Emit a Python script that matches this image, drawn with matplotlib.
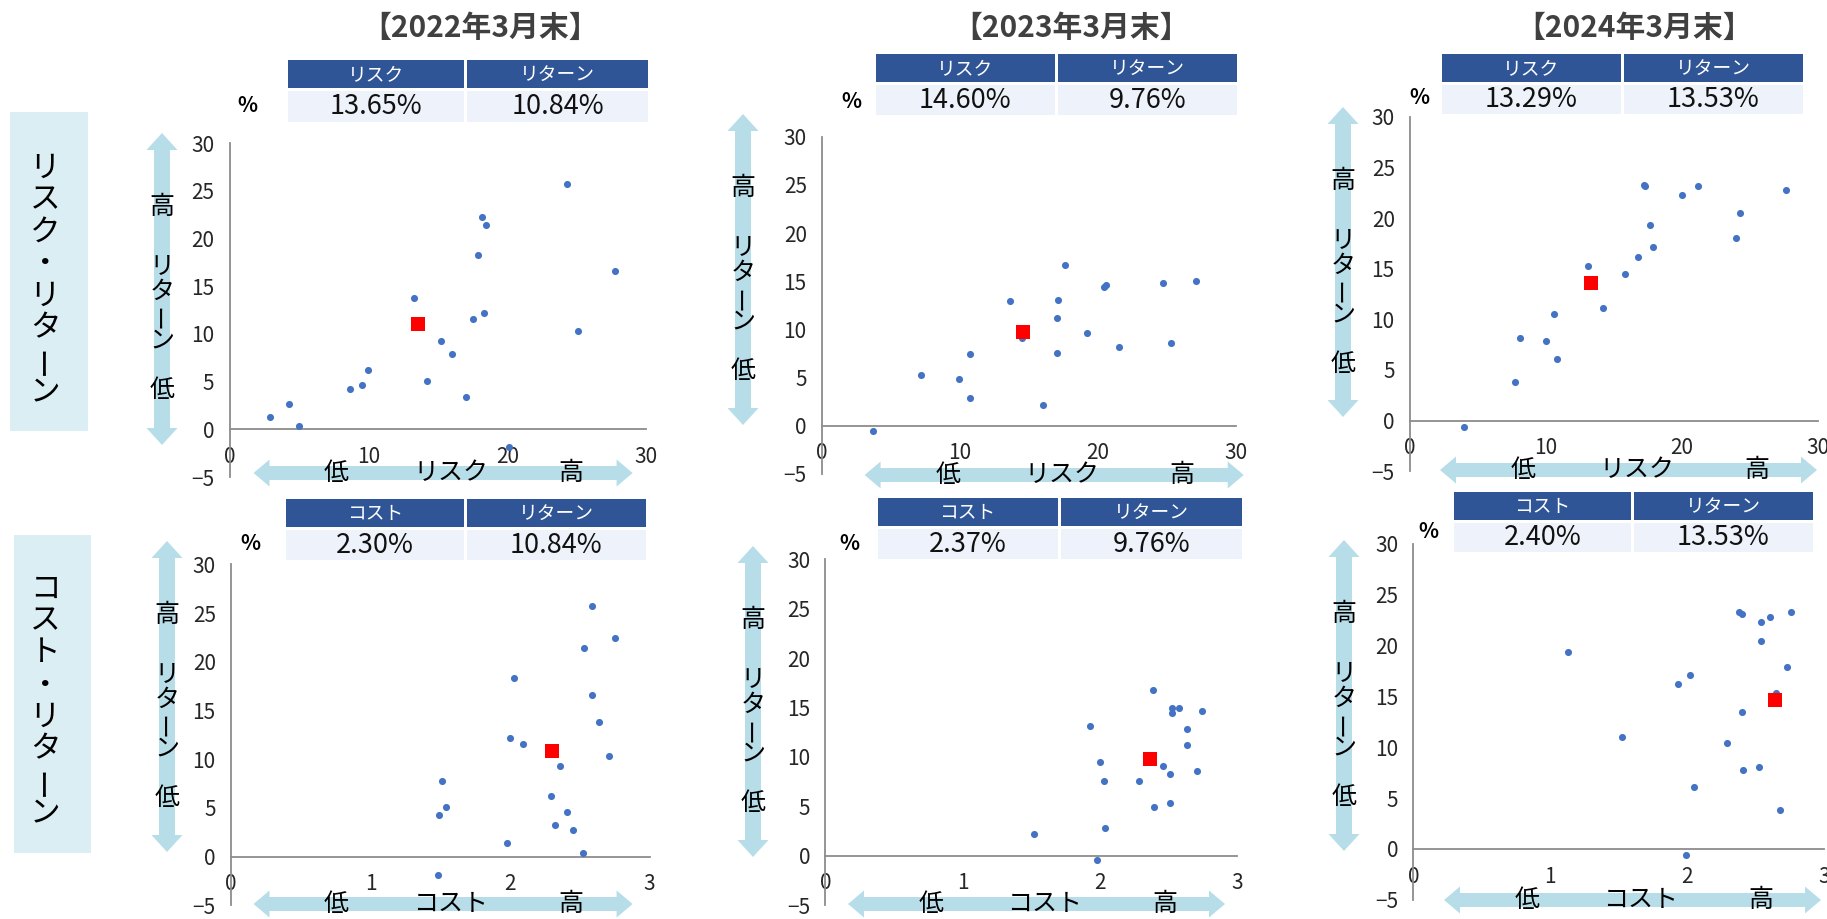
import numpy as np
import matplotlib
matplotlib.use("Agg")
import matplotlib.pyplot as plt
from matplotlib.patches import Rectangle, Polygon

plt.rcParams['font.family'] = ['Noto Sans CJK JP', 'DejaVu Sans']

W, H = 1827, 919

titles = ["【2022年3月末】", "【2023年3月末】", "【2024年3月末】"]

# --- 2022 ---
risk_2022 = [2.9, 4.3, 5.0, 8.7, 9.5, 10.0, 13.3, 14.2, 15.2, 16.0, 17.0, 17.5, 17.9, 18.2, 18.3, 18.5, 20.1, 24.3, 25.1, 27.8]
rr_2022 = [1.3, 2.7, 0.4, 4.2, 4.6, 6.2, 13.8, 5.1, 9.3, 7.9, 3.4, 11.6, 18.3, 22.3, 12.2, 21.4, -1.9, 25.7, 10.3, 16.6]
cost_2022 = [2.59, 2.75, 2.53, 2.03, 2.59, 2.64, 2.00, 2.09, 2.71, 2.36, 1.51, 2.29, 1.54, 1.49, 2.41, 2.32, 2.45, 1.98, 2.52, 1.48]
rc_2022 = [25.7, 22.4, 21.4, 18.3, 16.6, 13.8, 12.2, 11.6, 10.3, 9.3, 7.8, 6.2, 5.1, 4.3, 4.6, 3.3, 2.7, 1.4, 0.4, -1.9]

# --- 2023 ---
risk_2023 = [3.7, 7.2, 9.9, 10.7, 10.7, 13.6, 14.5, 16.0, 17.0, 17.0, 17.1, 17.6, 19.2, 20.4, 20.6, 21.5, 24.7, 25.3, 27.1]
rr_2023 = [-0.5, 5.3, 4.9, 7.5, 2.9, 12.9, 9.1, 2.2, 7.6, 11.2, 13.1, 16.7, 9.6, 14.4, 14.6, 8.2, 14.8, 8.6, 15.0]
cost_2023 = [1.52, 1.98, 2.04, 1.93, 2.00, 2.03, 2.29, 2.39, 2.40, 2.46, 2.51, 2.51, 2.53, 2.53, 2.58, 2.64, 2.64, 2.71, 2.75]
rc_2023 = [2.2, -0.4, 2.8, 13.1, 9.5, 7.6, 7.6, 16.8, 4.9, 9.1, 8.3, 5.3, 14.9, 14.4, 15.0, 12.8, 11.2, 8.6, 14.6]

# --- 2024 ---
risk_2024 = [4.0, 7.7, 8.1, 10.0, 10.8, 10.6, 13.1, 14.2, 15.8, 16.8, 17.2, 17.3, 17.7, 17.9, 20.0, 21.2, 24.0, 24.3, 27.7]
rr_2024 = [-0.6, 3.8, 8.2, 7.9, 6.1, 10.5, 15.3, 11.1, 14.5, 16.2, 23.3, 23.2, 19.3, 17.1, 22.3, 23.2, 18.0, 20.5, 22.8]
cost_2024 = [1.13, 1.52, 1.93, 2.02, 1.99, 2.05, 2.29, 2.38, 2.40, 2.40, 2.41, 2.52, 2.54, 2.54, 2.60, 2.65, 2.73, 2.68, 2.76]
rc_2024 = [19.4, 11.0, 16.2, 17.1, -0.6, 6.1, 10.4, 23.3, 23.1, 13.5, 7.8, 8.1, 22.3, 20.5, 22.8, 15.3, 17.9, 3.8, 23.3]

# averages shown in the tables
avg_risk = [13.65, 14.60, 13.29]
avg_cost = [2.30, 2.37, 2.40]
avg_ret = [10.84, 9.76, 13.53]
# where the red marker sits on the charts
mark_risk = [13.55, 14.60, 13.29]
mark_rr = [11.0, 9.76, 13.6]
mark_cost = [2.30, 2.37, 2.64]
mark_rc = [10.84, 9.8, 14.66]

risk_x = [risk_2022, risk_2023, risk_2024]
risk_y = [rr_2022, rr_2023, rr_2024]
cost_x = [cost_2022, cost_2023, cost_2024]
cost_y = [rc_2022, rc_2023, rc_2024]

BLUE = "#4472C4"
ARROW = "#B7DEE8"
BOX = "#DAEEF3"
HEAD = "#2F5597"
CELL = "#EEF2FA"

# pixel layout: (left, right, top@30, bottom@-5)
boxes_top = [(229.7, 646, 143.3, 477), (822, 1236, 136.7, 474), (1410, 1817.5, 116.7, 471.3)]
boxes_bot = [(231, 649.6, 564.3, 905.4), (825.4, 1236.7, 559.3, 905.1), (1413.3, 1824.3, 544, 899.8)]
# tables: (x0, xdiv, x1, y_top, y_mid, y_bot)
tabs_top = [(287.6, 465.7, 648, 60, 89, 122), (876, 1056, 1237, 54, 83.5, 115), (1442, 1622, 1803, 54, 83.5, 114)]
tabs_bot = [(286, 465, 646, 499, 528.5, 560), (877.5, 1059, 1242, 498, 527.5, 559), (1454, 1632, 1812.5, 492, 521.5, 552)]
pct_top = [(247, 105), (851, 102), (1419, 97)]
pct_bot = [(250, 543), (849, 543), (1428, 532)]
title_x = [480, 1071, 1634]
varrow_top = [(162, 133, 445), (743, 114, 425), (1343, 107, 417)]
varrow_bot = [(167, 541, 852), (753, 546, 857), (1344, 540, 851)]
harrow_top = [(473, 253.5, 632.6), (475, 864.6, 1243.7), (470, 1440, 1817)]
harrow_bot = [(904, 253.5, 632.6), (904, 848, 1225), (900, 1444, 1821)]

fig = plt.figure(figsize=(W / 100, H / 100), dpi=100)


def add_panel(box, xs, ys, mx, my, xmax, xticks):
    l, r, t, b = box
    ax = fig.add_axes([l / W, 1 - b / H, (r - l) / W, (b - t) / H])
    ax.scatter(xs, ys, s=26, color=BLUE, zorder=3, linewidths=0)
    ax.scatter([mx], [my], s=95, marker="s", color="#FF0000", zorder=4, linewidths=0)
    ax.set_xlim(0, xmax)
    ax.set_ylim(-5, 30)
    ax.set_yticks(range(-5, 31, 5))
    ax.set_xticks(xticks)
    ax.spines["top"].set_visible(False)
    ax.spines["right"].set_visible(False)
    ax.spines["bottom"].set_position(("data", 0))
    for s in ("left", "bottom"):
        ax.spines[s].set_color("#8c8c8c")
        ax.spines[s].set_linewidth(1.3)
    ax.tick_params(axis="both", length=0, labelsize=15, labelcolor="#262626")
    ax.tick_params(axis="y", pad=11)
    ax.tick_params(axis="x", pad=12)
    ax.patch.set_alpha(0)
    return ax


for i in range(3):
    add_panel(boxes_top[i], risk_x[i], risk_y[i], mark_risk[i], mark_rr[i], 30, [0, 10, 20, 30])
    add_panel(boxes_bot[i], cost_x[i], cost_y[i], mark_cost[i], mark_rc[i], 3, [0, 1, 2, 3])

ov = fig.add_axes([0, 0, 1, 1], zorder=10)
ov.set_xlim(0, W)
ov.set_ylim(H, 0)
ov.axis("off")
ov.patch.set_alpha(0)


def vert_arrow(xc, top, bot, s=8, h=15.5, L=17):
    pts = [(xc, top), (xc + h, top + L), (xc + s, top + L), (xc + s, bot - L), (xc + h, bot - L),
           (xc, bot), (xc - h, bot - L), (xc - s, bot - L), (xc - s, top + L), (xc - h, top + L)]
    ov.add_patch(Polygon(pts, closed=True, color=ARROW, lw=0))
    ov.text(xc, top + 74, "高", ha="center", va="center", fontsize=18)
    for k, ch in enumerate("リターン"):
        ov.text(xc, top + 134 + k * 24.5, ch, ha="center", va="center", fontsize=18,
                rotation=90 if ch == "ー" else 0)
    ov.text(xc, top + 257, "低", ha="center", va="center", fontsize=18)


def horiz_arrow(yc, left, right, word, s=7, h=13.5, L=16):
    pts = [(left, yc), (left + L, yc - h), (left + L, yc - s), (right - L, yc - s), (right - L, yc - h),
           (right, yc), (right - L, yc + h), (right - L, yc + s), (left + L, yc + s), (left + L, yc + h)]
    ov.add_patch(Polygon(pts, closed=True, color=ARROW, lw=0))
    ov.text(left + 83, yc, "低", ha="center", va="center", fontsize=18)
    ov.text(left + 197, yc, word, ha="center", va="center", fontsize=18)
    ov.text(left + 317, yc, "高", ha="center", va="center", fontsize=18)


def table(tb, heads, vals):
    x0, xd, x1, yt, ym, yb = tb
    gap = 1.5
    for (a, c), hd, v in zip([(x0, xd - gap), (xd + gap, x1)], heads, vals):
        ov.add_patch(Rectangle((a, yt), c - a, ym - yt - gap, color=HEAD, lw=0))
        ov.add_patch(Rectangle((a, ym + gap), c - a, yb - ym - gap, color=CELL, lw=0))
        ov.text((a + c) / 2, (yt + ym) / 2, hd, ha="center", va="center", fontsize=13.5, color="white")
        ov.text((a + c) / 2, (ym + yb) / 2 + 1, v, ha="center", va="center", fontsize=19.5, color="#111111")


for i in range(3):
    ov.text(title_x[i], 28, titles[i], ha="center", va="center", fontsize=21.5,
            fontweight="bold", color="#404040")
    table(tabs_top[i], ["リスク", "リターン"], [f"{avg_risk[i]:.2f}%", f"{avg_ret[i]:.2f}%"])
    table(tabs_bot[i], ["コスト", "リターン"], [f"{avg_cost[i]:.2f}%", f"{avg_ret[i]:.2f}%"])
    ov.text(*pct_top[i], "%", ha="center", va="center", fontsize=15, fontweight="bold")
    ov.text(*pct_bot[i], "%", ha="center", va="center", fontsize=15, fontweight="bold")
    vert_arrow(*varrow_top[i])
    vert_arrow(*varrow_bot[i])
    horiz_arrow(*harrow_top[i], "リスク")
    horiz_arrow(*harrow_bot[i], "コスト")

# row labels (vertical text in pale boxes)
for (x0, x1, y0, y1), word, ystart in [((10, 88, 112, 431), "リスク・リターン", 168),
                                       ((13.5, 91, 535, 853), "コスト・リターン", 589)]:
    ov.add_patch(Rectangle((x0, y0), x1 - x0, y1 - y0, color=BOX, lw=0))
    for k, ch in enumerate(word):
        ov.text(45, ystart + k * 32, ch, ha="center", va="center", fontsize=22,
                rotation=90 if ch == "ー" else 0)

fig.savefig("out.png", dpi=100)
